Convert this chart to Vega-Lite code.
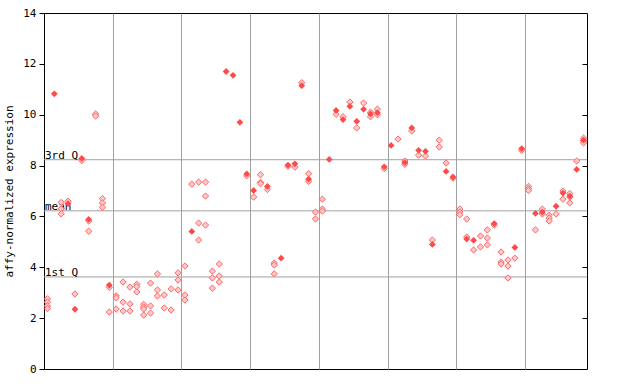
{
  "$schema": "https://vega.github.io/schema/vega-lite/v6.json",
  "width": 543,
  "height": 356,
  "autosize": "none",
  "padding": {"left": 44, "top": 13, "right": 53, "bottom": 15},
  "background": "white",
  "config": {
    "view": {"stroke": "black", "strokeWidth": 1},
    "font": "DejaVu Sans Mono"
  },
  "datasets": {
    "pts": [
      {"i":0,"v":2.76,"t":"h"},{"i":0,"v":2.63,"t":"h"},{"i":0,"v":2.48,"t":"h"},{"i":0,"v":2.38,"t":"h"},
      {"i":1,"v":10.82,"t":"f"},
      {"i":2,"v":6.55,"t":"h"},{"i":2,"v":6.3,"t":"h"},{"i":2,"v":6.1,"t":"h"},
      {"i":3,"v":6.6,"t":"h"},{"i":3,"v":6.5,"t":"f"},
      {"i":4,"v":2.95,"t":"h"},{"i":4,"v":2.35,"t":"f"},
      {"i":5,"v":8.2,"t":"h"},{"i":5,"v":8.28,"t":"f"},
      {"i":6,"v":5.82,"t":"h"},{"i":6,"v":5.42,"t":"h"},{"i":6,"v":5.88,"t":"f"},
      {"i":7,"v":10.03,"t":"h"},{"i":7,"v":9.95,"t":"h"},
      {"i":8,"v":6.7,"t":"h"},{"i":8,"v":6.53,"t":"h"},{"i":8,"v":6.36,"t":"h"},
      {"i":9,"v":3.21,"t":"h"},{"i":9,"v":2.24,"t":"h"},{"i":9,"v":3.3,"t":"f"},
      {"i":10,"v":2.87,"t":"h"},{"i":10,"v":2.8,"t":"h"},{"i":10,"v":2.36,"t":"h"},
      {"i":11,"v":3.42,"t":"h"},{"i":11,"v":2.63,"t":"h"},{"i":11,"v":2.28,"t":"h"},
      {"i":12,"v":3.22,"t":"h"},{"i":12,"v":2.56,"t":"h"},{"i":12,"v":2.28,"t":"h"},
      {"i":13,"v":3.33,"t":"h"},{"i":13,"v":3.24,"t":"h"},{"i":13,"v":3.03,"t":"h"},
      {"i":14,"v":2.54,"t":"h"},{"i":14,"v":2.44,"t":"h"},{"i":14,"v":2.36,"t":"h"},{"i":14,"v":2.12,"t":"h"},
      {"i":15,"v":3.38,"t":"h"},{"i":15,"v":2.48,"t":"h"},{"i":15,"v":2.2,"t":"h"},
      {"i":16,"v":3.74,"t":"h"},{"i":16,"v":3.11,"t":"h"},{"i":16,"v":2.87,"t":"h"},
      {"i":17,"v":2.91,"t":"h"},{"i":17,"v":2.4,"t":"h"},
      {"i":18,"v":3.15,"t":"h"},{"i":18,"v":2.32,"t":"h"},
      {"i":19,"v":3.78,"t":"h"},{"i":19,"v":3.5,"t":"h"},{"i":19,"v":3.11,"t":"h"},
      {"i":20,"v":4.05,"t":"h"},{"i":20,"v":2.91,"t":"h"},{"i":20,"v":2.71,"t":"h"},
      {"i":21,"v":7.27,"t":"h"},{"i":21,"v":5.41,"t":"f"},
      {"i":22,"v":7.35,"t":"h"},{"i":22,"v":5.74,"t":"h"},{"i":22,"v":5.07,"t":"h"},
      {"i":23,"v":7.35,"t":"h"},{"i":23,"v":6.8,"t":"h"},{"i":23,"v":5.66,"t":"h"},
      {"i":24,"v":3.85,"t":"h"},{"i":24,"v":3.58,"t":"h"},{"i":24,"v":3.18,"t":"h"},
      {"i":25,"v":4.13,"t":"h"},{"i":25,"v":3.66,"t":"h"},{"i":25,"v":3.42,"t":"h"},
      {"i":26,"v":11.7,"t":"f"},
      {"i":27,"v":11.55,"t":"f"},
      {"i":28,"v":9.7,"t":"f"},
      {"i":29,"v":7.6,"t":"h"},{"i":29,"v":7.67,"t":"f"},
      {"i":30,"v":6.76,"t":"h"},{"i":30,"v":7.02,"t":"f"},
      {"i":31,"v":7.64,"t":"h"},{"i":31,"v":7.34,"t":"h"},{"i":31,"v":7.29,"t":"h"},
      {"i":32,"v":7.06,"t":"h"},{"i":32,"v":7.18,"t":"f"},
      {"i":33,"v":4.17,"t":"h"},{"i":33,"v":4.09,"t":"h"},{"i":33,"v":3.74,"t":"h"},
      {"i":34,"v":4.36,"t":"f"},
      {"i":35,"v":7.97,"t":"h"},{"i":35,"v":8.02,"t":"f"},
      {"i":36,"v":7.94,"t":"h"},{"i":36,"v":8.07,"t":"f"},
      {"i":37,"v":11.26,"t":"h"},{"i":37,"v":11.14,"t":"f"},
      {"i":38,"v":7.68,"t":"h"},{"i":38,"v":7.38,"t":"h"},{"i":38,"v":7.47,"t":"f"},
      {"i":39,"v":6.17,"t":"h"},{"i":39,"v":5.9,"t":"h"},
      {"i":40,"v":6.68,"t":"h"},{"i":40,"v":6.29,"t":"h"},{"i":40,"v":6.21,"t":"h"},
      {"i":41,"v":8.24,"t":"f"},
      {"i":42,"v":10.02,"t":"h"},{"i":42,"v":10.17,"t":"f"},
      {"i":43,"v":9.92,"t":"h"},{"i":43,"v":9.81,"t":"f"},
      {"i":44,"v":10.5,"t":"h"},{"i":44,"v":10.33,"t":"f"},
      {"i":45,"v":9.48,"t":"h"},{"i":45,"v":9.74,"t":"f"},
      {"i":46,"v":10.46,"t":"h"},{"i":46,"v":10.21,"t":"f"},
      {"i":47,"v":10.1,"t":"h"},{"i":47,"v":9.92,"t":"h"},{"i":47,"v":10.03,"t":"f"},
      {"i":48,"v":10.22,"t":"h"},{"i":48,"v":10.0,"t":"h"},{"i":48,"v":10.08,"t":"f"},
      {"i":49,"v":7.88,"t":"h"},{"i":49,"v":7.95,"t":"f"},
      {"i":50,"v":8.79,"t":"f"},
      {"i":51,"v":9.04,"t":"h"},
      {"i":52,"v":8.18,"t":"h"},{"i":52,"v":8.05,"t":"h"},{"i":52,"v":8.12,"t":"f"},
      {"i":53,"v":9.36,"t":"h"},{"i":53,"v":9.48,"t":"f"},
      {"i":54,"v":8.41,"t":"h"},{"i":54,"v":8.6,"t":"f"},
      {"i":55,"v":8.38,"t":"h"},{"i":55,"v":8.56,"t":"f"},
      {"i":56,"v":5.07,"t":"h"},{"i":56,"v":4.9,"t":"f"},
      {"i":57,"v":9.0,"t":"h"},{"i":57,"v":8.73,"t":"h"},
      {"i":58,"v":8.1,"t":"h"},{"i":58,"v":7.77,"t":"f"},
      {"i":59,"v":7.5,"t":"h"},{"i":59,"v":7.55,"t":"f"},
      {"i":60,"v":6.29,"t":"h"},{"i":60,"v":6.17,"t":"h"},{"i":60,"v":6.07,"t":"h"},
      {"i":61,"v":5.9,"t":"h"},{"i":61,"v":5.19,"t":"h"},{"i":61,"v":5.11,"t":"f"},
      {"i":62,"v":4.68,"t":"h"},{"i":62,"v":5.06,"t":"f"},
      {"i":63,"v":5.23,"t":"h"},{"i":63,"v":4.8,"t":"h"},
      {"i":64,"v":5.47,"t":"h"},{"i":64,"v":5.15,"t":"h"},{"i":64,"v":4.88,"t":"h"},
      {"i":65,"v":5.66,"t":"h"},{"i":65,"v":5.72,"t":"f"},
      {"i":66,"v":4.6,"t":"h"},{"i":66,"v":4.21,"t":"h"},{"i":66,"v":4.13,"t":"h"},
      {"i":67,"v":4.29,"t":"h"},{"i":67,"v":4.05,"t":"h"},{"i":67,"v":3.58,"t":"h"},
      {"i":68,"v":4.36,"t":"h"},{"i":68,"v":4.78,"t":"f"},
      {"i":69,"v":8.6,"t":"h"},{"i":69,"v":8.67,"t":"f"},
      {"i":70,"v":7.18,"t":"h"},{"i":70,"v":7.09,"t":"h"},{"i":70,"v":7.02,"t":"h"},
      {"i":71,"v":5.47,"t":"h"},{"i":71,"v":6.12,"t":"f"},
      {"i":72,"v":6.29,"t":"h"},{"i":72,"v":6.1,"t":"h"},{"i":72,"v":6.17,"t":"f"},
      {"i":73,"v":6.05,"t":"h"},{"i":73,"v":5.94,"t":"h"},{"i":73,"v":5.82,"t":"h"},
      {"i":74,"v":6.1,"t":"h"},{"i":74,"v":6.4,"t":"f"},
      {"i":75,"v":7.0,"t":"h"},{"i":75,"v":6.68,"t":"h"},{"i":75,"v":6.92,"t":"f"},
      {"i":76,"v":6.9,"t":"h"},{"i":76,"v":6.53,"t":"h"},{"i":76,"v":6.76,"t":"h"},{"i":76,"v":6.8,"t":"f"},
      {"i":77,"v":8.18,"t":"h"},{"i":77,"v":7.85,"t":"f"},
      {"i":78,"v":9.08,"t":"h"},{"i":78,"v":8.98,"t":"h"},{"i":78,"v":8.89,"t":"h"},{"i":78,"v":9.0,"t":"f"}
    ],
    "refs": [
      {"y": 8.23, "label": "3rd Q"},
      {"y": 6.22, "label": "mean"},
      {"y": 3.62, "label": "1st Q"}
    ]
  },
  "resolve": {"axis": {"y": "independent"}},
  "layer": [
    {
      "data": {"name": "refs"},
      "mark": {"type": "rule", "color": "#a0a0a0", "strokeWidth": 1},
      "encoding": {
        "y": {"field": "y", "type": "quantitative",
          "scale": {"domain": [0, 14], "nice": false, "zero": false},
          "axis": {"orient": "right", "values": [2,4,6,8,10,12], "labels": false, "tickSize": -5, "tickColor": "black", "domain": false, "grid": false, "title": null}}
      }
    },
    {
      "data": {"name": "refs"},
      "mark": {"type": "text", "align": "left", "baseline": "alphabetic", "dy": -1, "dx": 1, "fontSize": 11, "font": "DejaVu Sans Mono", "color": "black"},
      "encoding": {
        "x": {"datum": -0.5, "type": "quantitative"},
        "y": {"field": "y", "type": "quantitative", "axis": null},
        "text": {"field": "label"}
      }
    },
    {
      "data": {"name": "pts"},
      "transform": [{"filter": "datum.t == 'h'"}],
      "mark": {"type": "point", "shape": "diamond", "size": 40, "filled": true, "fill": "#ffc8c8", "stroke": "#ff5a5a", "strokeWidth": 0.9, "opacity": 1},
      "encoding": {
        "x": {"field": "i", "type": "quantitative",
          "scale": {"domain": [-0.5, 78.5], "nice": false, "zero": false},
          "axis": {"values": [9.5,19.5,29.5,39.5,49.5,59.5,69.5], "grid": true, "gridColor": "#a0a0a0", "gridWidth": 1, "gridOpacity": 1, "labels": false, "ticks": false, "domain": false, "title": null}},
        "y": {"field": "v", "type": "quantitative",
          "axis": {"orient": "left", "values": [0,2,4,6,8,10,12,14], "grid": false, "tickSize": 5, "tickColor": "black", "domainColor": "black", "labelFont": "DejaVu Sans Mono", "labelFontSize": 11, "labelColor": "black", "labelPadding": 3,
            "title": "affy-normalized expression", "titleFont": "DejaVu Sans Mono", "titleFontSize": 11, "titleFontWeight": "normal", "titleColor": "black", "titlePadding": 8}}
      }
    },
    {
      "data": {"name": "pts"},
      "transform": [{"filter": "datum.t == 'f'"}],
      "mark": {"type": "point", "shape": "diamond", "size": 46, "filled": true, "color": "#ff4a4a", "opacity": 1},
      "encoding": {
        "x": {"field": "i", "type": "quantitative"},
        "y": {"field": "v", "type": "quantitative", "axis": null}
      }
    }
  ]
}
